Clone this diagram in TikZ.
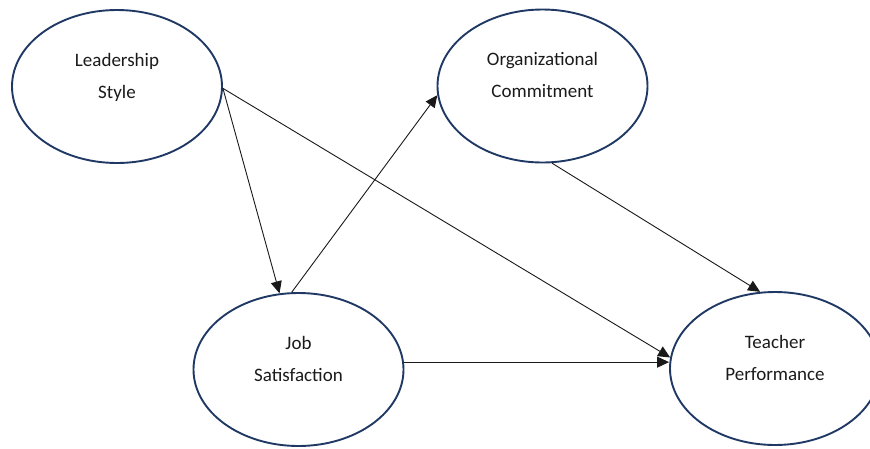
\documentclass[tikz,border=0pt]{standalone}
\usepackage{fontspec}
\setmainfont{Carlito}
\usetikzlibrary{shapes.geometric,arrows.meta}
\definecolor{ovalblue}{HTML}{1F3864}
\definecolor{ink}{HTML}{1A1A1A}
\begin{document}
\begin{tikzpicture}[x=1pt,y=-1pt,
  construct/.style={ellipse, draw=ovalblue, line width=1.9pt,
    minimum width=210pt, minimum height=153pt, inner sep=0pt},
  caption/.style={align=center, text=ink, inner sep=0pt,
    font=\fontsize{19}{32}\selectfont},
  link/.style={draw=black!90, line width=0.9pt,
    -{Triangle[length=12pt,width=11pt]}}
]
\useasboundingbox (0,0) rectangle (870,448);

% constructs
\node[construct] (ls) at (117,86.5) {};
\node[construct] (oc) at (542.5,86) {};
\node[construct] (js) at (298.5,369.5) {};
\node[construct] (tp) at (775,368.5) {};

% construct names
\node[caption] (lsT) at ([yshift=10.9pt]ls.center) {\strut Leadership\\\strut Style};
\node[caption] (ocT) at ([yshift=10.9pt]oc.center) {\strut Organizational\\\strut Commitment};
\node[caption] (jsT) at ([yshift=10.9pt]js.center) {\strut Job\\\strut Satisfaction};
\node[caption] (tpT) at ([yshift=10.9pt]tp.center) {\strut Teacher\\\strut Performance};

% paths
\draw[link] (ls.-1) -- (js.104);
\draw[link] (ls.-1) -- (tp.174);
\draw[link] (js.4.6) -- (js.4.6 -| tp.west);
\draw[link] (js.95) -- (oc.185);
\draw[link] (oc.-83) -- (tp.101);
\end{tikzpicture}
\end{document}
